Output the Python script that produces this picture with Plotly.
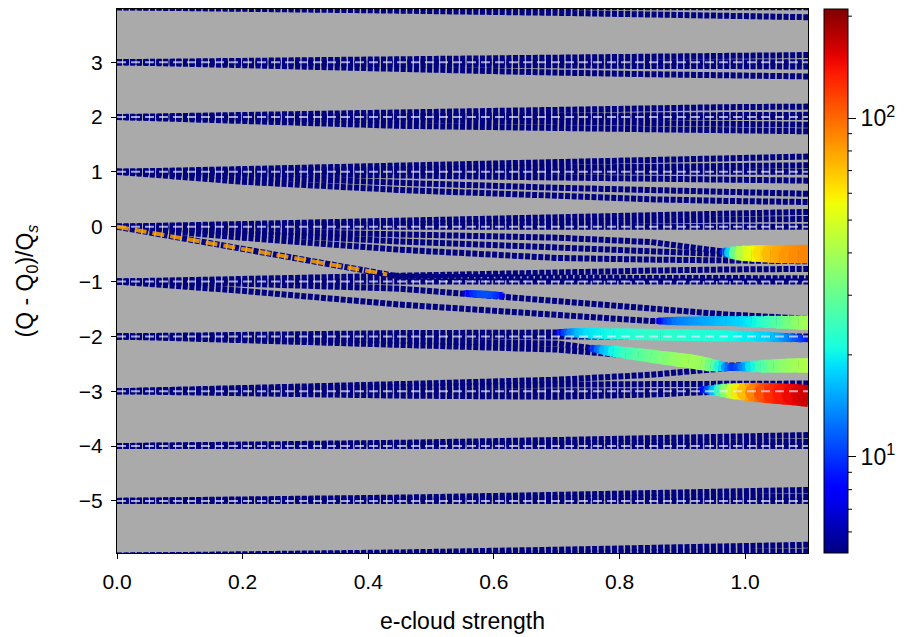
import numpy as np
import plotly.graph_objects as go

# ---------------- data ----------------
# e-cloud strength knots at which each mode track is read
x_knots = [0.0, 0.2, 0.45, 0.7, 0.85, 0.97, 1.1]

# mode tracks (Q-Q0)/Qs at the knots, grouped by azimuthal mode
tracks_m4 = [[4, 4, 4, 4, 4, 4, 4],
             [4, 3.98, 3.94, 3.9, 3.87, 3.85, 3.82]]
tracks_m3 = [[3, 3.02, 3.05, 3.08, 3.1, 3.11, 3.13],
             [3, 3, 3, 3, 3, 3, 3],
             [3, 2.98, 2.95, 2.94, 2.93, 2.93, 2.92],
             [3, 2.94, 2.87, 2.81, 2.78, 2.76, 2.74]]
tracks_m2 = [[2, 2.04, 2.09, 2.13, 2.16, 2.18, 2.19],
             [2, 2.01, 2.02, 2.03, 2.035, 2.04, 2.04],
             [2, 2, 2, 2, 2, 2, 2],
             [2, 1.97, 1.94, 1.91, 1.89, 1.87, 1.86],
             [2, 1.93, 1.84, 1.8, 1.77, 1.755, 1.74]]
tracks_m1 = [[1, 1.05, 1.12, 1.18, 1.22, 1.25, 1.28],
             [1, 1.02, 1.05, 1.08, 1.09, 1.1, 1.12],
             [1, 1, 1, 1, 1, 1, 1],
             [1, 0.97, 0.93, 0.9, 0.88, 0.86, 0.84],
             [1, 0.9, 0.8, 0.71, 0.66, 0.63, 0.6],
             [1, 0.82, 0.67, 0.55, 0.5, 0.47, 0.45]]
tracks_m0 = [[0, 0.05, 0.11, 0.17, 0.21, 0.24, 0.27],
             [0, 0.02, 0.05, 0.09, 0.11, 0.13, 0.14],
             [0, 0, 0, 0, 0, 0, 0],
             [0, -0.08, -0.14, -0.2, -0.28, -0.46, -0.5],
             [0, -0.13, -0.27, -0.38, -0.44, -0.5, -0.5],
             [0, -0.2, -0.42, -0.57, -0.6, -0.62, -0.63],
             [0, -0.41, -0.91, -0.93, -0.93, -0.93, -0.94]]
tracks_mm1 = [[-1, -0.95, -0.88, -0.82, -0.8, -0.78, -0.77],
              [-1, -1, -1, -1, -1, -1, -1],
              [-1, -1.04, -1.13, -1.36, -1.5, -1.6, -1.68],
              [-1, -1.17, -1.42, -1.62, -1.72, -1.72, -1.74]]
tracks_mm2 = [[-2, -1.97, -1.94, -1.93, -1.96, -1.99, -2.03],
              [-2, -2, -2, -2, -2, -2, -2],
              [-2, -2.03, -2.08, -2.13, -2.36, -2.53, -2.52],
              [-2, -2.07, -2.17, -2.24, -2.38, -2.55, -2.53]]
tracks_mm3 = [[-3, -2.95, -2.87, -2.79, -2.7, -2.58, -2.53],
              [-3, -2.96, -2.91, -2.88, -2.87, -2.86, -2.86],
              [-3, -3, -3, -3, -3, -3, -3],
              [-3, -3.04, -3.08, -3.1, -3.06, -3.0, -3.08]]
tracks_mm4 = [[-4, -4, -4, -4, -4, -4, -4],
              [-4, -3.99, -3.97, -3.95, -3.94, -3.93, -3.92],
              [-4, -3.98, -3.94, -3.89, -3.86, -3.83, -3.8]]
tracks_mm5 = [[-5, -5, -5, -5, -5, -5, -5],
              [-5, -4.99, -4.97, -4.95, -4.94, -4.93, -4.92],
              [-5, -4.98, -4.94, -4.89, -4.86, -4.83, -4.8]]
tracks_mm6 = [[-6, -6, -6, -6, -6, -6, -6],
              [-6, -5.99, -5.97, -5.95, -5.94, -5.93, -5.92],
              [-6, -5.98, -5.94, -5.89, -5.86, -5.83, -5.8]]

# unstable (coloured) parts: strength, frequency, growth rate
blob1_x = [0.965, 0.975, 0.985, 0.995, 1.01, 1.025, 1.04, 1.055, 1.07, 1.085, 1.1]
blob1_y = [-0.46, -0.47, -0.48, -0.485, -0.49, -0.49, -0.495, -0.5, -0.5, -0.5, -0.5]
blob1_g = [10, 20, 35, 45, 55, 65, 75, 80, 85, 88, 90]

blob2_x = [0.862, 0.875, 0.89, 0.91, 0.93, 0.95, 0.97, 0.99, 1.01, 1.03, 1.05, 1.07, 1.085, 1.1]
blob2_y = [-1.72, -1.72, -1.72, -1.72, -1.72, -1.72, -1.72, -1.725, -1.73, -1.735, -1.74, -1.745, -1.75, -1.75]
blob2_g = [8, 11, 13, 14, 15, 16, 17, 18, 20, 24, 28, 33, 37, 40]

blob3_x = [0.703, 0.712, 0.722, 0.735, 0.75, 0.77, 0.79, 0.815, 0.84, 0.865, 0.89, 0.915, 0.94,
           0.965, 0.99, 1.015, 1.04, 1.06, 1.075, 1.09, 1.1]
blob3_y = [-1.93, -1.93, -1.935, -1.94, -1.94, -1.95, -1.955, -1.96, -1.965, -1.97, -1.975, -1.98,
           -1.985, -1.99, -1.995, -2.0, -2.01, -2.02, -2.03, -2.04, -2.045]
blob3_g = [8, 11, 14, 17, 19, 20, 21, 22, 23, 23, 23, 22, 22, 21, 20, 19, 17, 14, 12, 10, 9]

blob4_x = [0.755, 0.765, 0.775, 0.79, 0.81, 0.83, 0.85, 0.87, 0.89, 0.91, 0.93, 0.945, 0.958,
           0.968, 0.977, 0.986, 0.995, 1.008, 1.025, 1.045, 1.065, 1.085, 1.1]
blob4_y = [-2.22, -2.23, -2.25, -2.27, -2.3, -2.33, -2.36, -2.39, -2.42, -2.45, -2.49, -2.52, -2.54,
           -2.555, -2.56, -2.56, -2.555, -2.55, -2.545, -2.54, -2.535, -2.53, -2.53]
blob4_g = [9, 13, 17, 21, 25, 28, 31, 34, 37, 39, 38, 30, 20, 13, 10, 11, 14, 20, 27, 33, 37, 40, 42]

blob5_x = [0.93, 0.94, 0.95, 0.96, 0.97, 0.98, 0.99, 1.0, 1.015, 1.03, 1.045, 1.06, 1.075, 1.09, 1.1]
blob5_y = [-2.97, -2.975, -2.98, -2.985, -2.99, -3.0, -3.005, -3.01, -3.02, -3.03, -3.04, -3.05,
           -3.06, -3.075, -3.085]
blob5_g = [8, 12, 18, 28, 38, 50, 62, 75, 95, 115, 130, 140, 150, 160, 165]

blob6_x = [0.555, 0.567, 0.579, 0.591, 0.603, 0.613]
blob6_y = [-1.215, -1.223, -1.232, -1.24, -1.248, -1.255]
blob6_g = [8, 10, 11, 11, 10, 8]

# analytic shift (orange dashed)
orange_x = [0.0, 0.43]
orange_y = [0.0, -0.87]

mode_numbers = [-6, -5, -4, -3, -2, -1, 0, 1, 2, 3, 4]

g_min, g_max = 5.2, 210.0
x_ticks = [0.0, 0.2, 0.4, 0.6, 0.8, 1.0]
y_ticks = [-5, -4, -3, -2, -1, 0, 1, 2, 3]
cbar_major = [10, 100]
cbar_minor = [6, 7, 8, 9, 20, 30, 40, 50, 60, 70, 80, 90, 200]


# ---------------- styling helpers ----------------
def jet_rgb(t):
    r = np.interp(t, [0, 0.35, 0.66, 0.89, 1], [0, 0, 1, 1, 0.5])
    g = np.interp(t, [0, 0.125, 0.375, 0.64, 0.91, 1], [0, 0, 1, 1, 0, 0])
    b = np.interp(t, [0, 0.11, 0.34, 0.65, 1], [0.5, 1, 1, 0, 0])
    return "rgb(%d,%d,%d)" % (round(r * 255), round(g * 255), round(b * 255))


JET = [[float(t), jet_rgb(t)] for t in np.linspace(0, 1, 51)]
DOT_COLOR = jet_rgb(0.0)
FONT = "Liberation Sans, Arial, Helvetica, sans-serif"
CMIN, CMAX = float(np.log10(g_min)), float(np.log10(g_max))


def gsize(lg):
    return np.maximum(6.5, 6 + 12 * (lg - 0.9))


fig = go.Figure()

# dotted mode tracks
all_tracks = (tracks_m4 + tracks_m3 + tracks_m2 + tracks_m1 + tracks_m0 + tracks_mm1 +
              tracks_mm2 + tracks_mm3 + tracks_mm4 + tracks_mm5 + tracks_mm6)
tx, ty = [], []
for ys in all_tracks:
    tx += list(x_knots) + [None]
    ty += list(ys) + [None]
fig.add_trace(go.Scatter(x=tx, y=ty, mode="lines", hoverinfo="skip",
                         line=dict(color=DOT_COLOR, width=6, dash="5px,1.6px"),
                         showlegend=False))

# unstable regions: connecting segments (width/colour from growth) + markers
blobs = [(blob1_x, blob1_y, blob1_g), (blob2_x, blob2_y, blob2_g), (blob3_x, blob3_y, blob3_g),
         (blob4_x, blob4_y, blob4_g), (blob5_x, blob5_y, blob5_g), (blob6_x, blob6_y, blob6_g)]
for bxs, bys, bgs in blobs:
    lg = np.log10(np.array(bgs, dtype=float))
    sz = gsize(lg)
    for i in range(len(bxs) - 1):
        lm = 0.5 * (lg[i] + lg[i + 1])
        t = (lm - CMIN) / (CMAX - CMIN)
        fig.add_trace(go.Scatter(
            x=[bxs[i], bxs[i + 1]], y=[bys[i], bys[i + 1]], mode="lines",
            hoverinfo="skip", showlegend=False,
            line=dict(color=jet_rgb(float(np.clip(t, 0, 1))), width=float(0.5 * (sz[i] + sz[i + 1])))))

bx = blob1_x + blob2_x + blob3_x + blob4_x + blob5_x + blob6_x
by = blob1_y + blob2_y + blob3_y + blob4_y + blob5_y + blob6_y
bg = blob1_g + blob2_g + blob3_g + blob4_g + blob5_g + blob6_g
logg = np.log10(np.array(bg, dtype=float))
fig.add_trace(go.Scatter(
    x=bx, y=by, mode="markers", hoverinfo="skip", showlegend=False,
    marker=dict(size=gsize(logg), color=logg, coloraxis="coloraxis", line=dict(width=0))))

# integer lines (light dashed)
lx, ly = [], []
for m in mode_numbers:
    lx += [0.0, 1.1, None]
    ly += [m, m, None]
fig.add_trace(go.Scatter(x=lx, y=ly, mode="lines", hoverinfo="skip", showlegend=False,
                         line=dict(color="rgba(232,232,255,0.7)", width=2, dash="9px,5px")))

# orange dashed line
fig.add_trace(go.Scatter(x=orange_x, y=orange_y, mode="lines", hoverinfo="skip", showlegend=False,
                         line=dict(color="rgba(255,165,0,0.85)", width=4, dash="12px,6px")))

# colourbar geometry (pixels -> paper)
plot_w = 908 - 117 - 100
cb_left = 1.0232
cb_thick = 24
cb_right = cb_left + cb_thick / plot_w
minor_len = 4 / plot_w
shapes = []
for v in cbar_minor:
    fy = (np.log10(v) - CMIN) / (CMAX - CMIN)
    shapes.append(dict(type="line", xref="paper", yref="paper",
                       x0=cb_right, x1=cb_right + minor_len, y0=fy, y1=fy,
                       line=dict(color="black", width=1)))

fig.update_layout(
    width=908, height=637,
    margin=dict(l=117, r=100, t=8, b=83),
    paper_bgcolor="white",
    plot_bgcolor="#aaaaaa",
    font=dict(family=FONT, size=21, color="black"),
    shapes=shapes,
    coloraxis=dict(
        colorscale=JET, cmin=CMIN, cmax=CMAX,
        colorbar=dict(x=cb_left, xanchor="left", y=0.5, yanchor="middle",
                      len=1, lenmode="fraction", thickness=cb_thick, thicknessmode="pixels",
                      xpad=0, ypad=0, outlinewidth=1, outlinecolor="black",
                      tickvals=[float(np.log10(v)) for v in cbar_major],
                      ticktext=["10<sup>1</sup>", "10<sup>2</sup>"], ticks="outside",
                      ticklen=8, tickcolor="black", tickwidth=1,
                      tickfont=dict(family=FONT, size=23, color="black"))),
    xaxis=dict(range=[0, 1.1], tickvals=x_ticks, ticktext=["%.1f" % v for v in x_ticks],
               showgrid=False, zeroline=False, showline=True, mirror=True,
               linecolor="black", linewidth=1, ticks="outside", ticklen=5,
               tickcolor="black", ticklabelstandoff=5,
               title=dict(text="e-cloud strength", font=dict(size=23), standoff=20)),
    yaxis=dict(range=[-5.95, 3.97], tickvals=y_ticks,
               showgrid=False, zeroline=False, showline=True, mirror=True,
               linecolor="black", linewidth=1, ticks="outside", ticklen=5,
               tickcolor="black", ticklabelstandoff=4,
               title=dict(text="(Q - Q<sub>0</sub>)/Q<sub><i>s</i></sub>",
                          font=dict(size=23), standoff=38)),
)

fig.write_html("out.html")
